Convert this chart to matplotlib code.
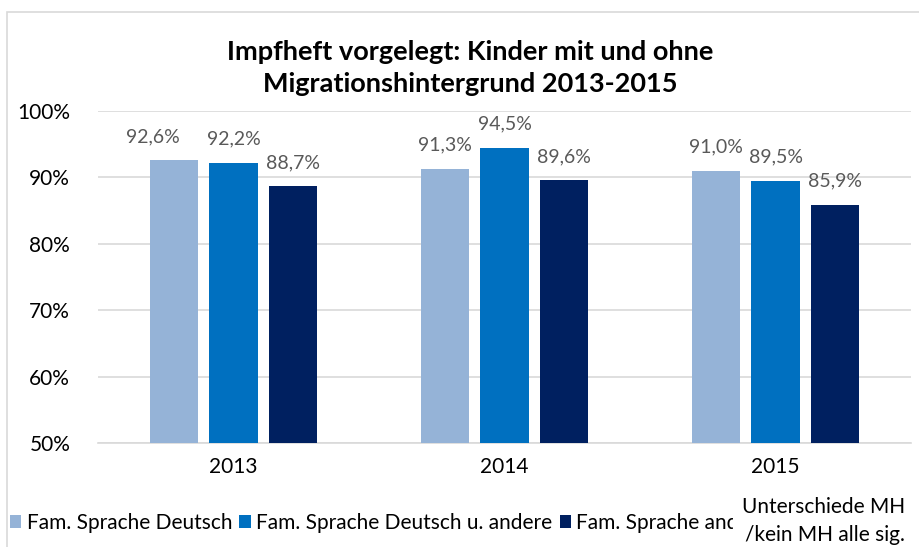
import matplotlib.pyplot as plt
from matplotlib.patches import Rectangle
from matplotlib.transforms import Bbox
import numpy as np

plt.rcParams['font.family'] = ['Lato', 'DejaVu Sans']

years = ['2013', '2014', '2015']
series = ['Fam. Sprache Deutsch', 'Fam. Sprache Deutsch u. andere', 'Fam. Sprache andere']
deutsch = [92.6, 91.3, 91.0]
deutsch_andere = [92.2, 94.5, 89.5]
andere = [88.7, 89.6, 85.9]
colors = ['#95B3D7', '#0070C0', '#002060']

fig = plt.figure(figsize=(9.19, 5.47), dpi=100)
ax = fig.add_axes([98 / 919, 1 - 443 / 547, 813 / 919, 332 / 547])

# chart border (cropped Excel chart)
fig.patches.append(Rectangle((7 / 919, -0.1), 1.2, 1 - 12 / 547 + 0.1,
                             transform=fig.transFigure, fill=False,
                             edgecolor='#D9D9D9', linewidth=1.2))

x = np.arange(len(years))
width = 0.178
offsets = [-0.22, 0, 0.22]
for i, (vals, off, c, name) in enumerate(zip([deutsch, deutsch_andere, andere], offsets, colors, series)):
    vals = np.array(vals) / 100
    bars = ax.bar(x + off, vals - 0.5, width, bottom=0.5, color=c, label=name, zorder=3)
    for j, (b, v) in enumerate(zip(bars, vals)):
        dx = -15 if (i == 0 and j == 0) else 0  # Excel moved this label a bit left
        ax.annotate(f'{v * 100:.1f}%'.replace('.', ','),
                    (b.get_x() + b.get_width() / 2, v), xytext=(dx, 17),
                    textcoords='offset points', ha='center', va='center',
                    fontsize=14, color='#595959')

ax.set_xlim(-0.5, 2.5)
ax.set_ylim(0.5, 1.0)
ax.set_yticks([0.5, 0.6, 0.7, 0.8, 0.9, 1.0])
ax.set_yticklabels(['50%', '60%', '70%', '80%', '90%', '100%'], fontsize=15)
ax.set_xticks(x)
ax.set_xticklabels(years, fontsize=15)
ax.tick_params(length=0, pad=10)
ax.tick_params(axis='y', pad=20)
ax.grid(axis='y', color='#D9D9D9', linewidth=1.2, zorder=0)
for s in ['top', 'right', 'left']:
    ax.spines[s].set_visible(False)
ax.spines['bottom'].set_color('#D9D9D9')
ax.spines['bottom'].set_linewidth(1.2)

fig.text(470 / 919, 1 - 68 / 547,
         'Impfheft vorgelegt: Kinder mit und ohne\nMigrationshintergrund 2013-2015',
         ha='center', va='center', fontsize=19.5, fontweight='bold', linespacing=1.35)

leg = fig.legend(loc='center left', bbox_to_anchor=(10 / 919, 1 - 523 / 547), ncol=3,
                 frameon=False, fontsize=15, handlelength=0.55, handleheight=0.55,
                 handletextpad=0.25, columnspacing=0.35, borderpad=0, borderaxespad=0)
# the legend is cut off by the note box, as in the original
clip = Bbox.from_extents(0, 0, 733, 547)
for t in leg.get_texts():
    t.set_clip_box(clip)
    t.set_clip_on(True)

fig.patches.append(Rectangle((735 / 919, 0), 184 / 919, 52 / 547, transform=fig.transFigure,
                             facecolor='white', edgecolor='none', zorder=10))
fig.text(905 / 919, 1 - 521 / 547, 'Unterschiede MH\n/kein MH alle sig.',
         ha='right', va='center', fontsize=15, linespacing=1.45, zorder=11)

fig.savefig('out.png', dpi=100)
